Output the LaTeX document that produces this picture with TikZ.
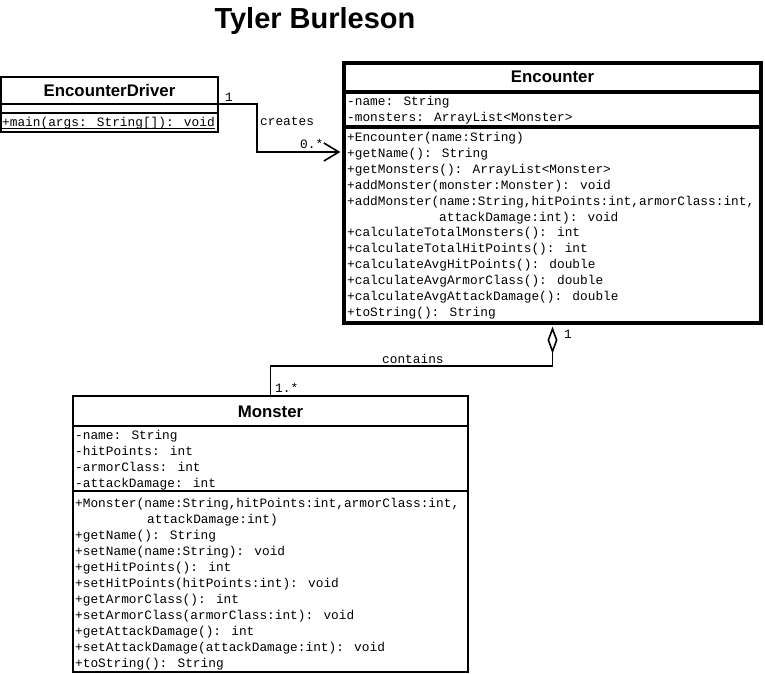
\documentclass[tikz,border=0pt]{standalone}
\usepackage{fontspec}
\setmainfont{Liberation Sans}
\newfontfamily\umlmono{Liberation Mono}
\usetikzlibrary{arrows.meta}
\begin{document}
\begin{tikzpicture}[x=1pt,y=-1pt,
  txt/.style={font=\umlmono\fontsize{12.8}{14}\selectfont, anchor=base west, inner sep=0pt},
  hdr/.style={font=\bfseries\fontsize{16.8}{18}\selectfont, anchor=base, inner sep=0pt},
  classline/.style={line width=1.6pt},
  boldline/.style={line width=3.6pt},
  classbox/.style={draw, inner sep=0pt, fill=white},
  conn/.style={line width=1.6pt}
]
\useasboundingbox (0,0) rectangle (765,674);

% title
\node[font=\bfseries\fontsize{29}{32}\selectfont, anchor=base, inner sep=0pt] (title) at (315,29) {Tyler Burleson};

% EncounterDriver
\node[classbox, classline, minimum width=217pt, minimum height=55pt] (drv) at (109.5,104.5) {};
\draw[classline] (drv.west |- 0,104) -- (drv.east |- 0,104);
\draw[classline] (drv.west |- 0,113) -- (drv.east |- 0,113);
\node[hdr] (drvname) at (109.5,96.5) {EncounterDriver};
\node[txt] (d1) at (2,126) {+main(args: String[]): void};
\draw[line width=0.8pt] ([yshift=-2pt]d1.base west) -- ([yshift=-2pt]d1.base east);

% Encounter
\node[classbox, boldline, minimum width=417pt, minimum height=260pt] (enc) at (552.5,193) {};
\draw[boldline] (enc.west |- 0,92) -- (enc.east |- 0,92);
\draw[boldline] (enc.west |- 0,127) -- (enc.east |- 0,127);
\node[hdr] (encname) at (552.5,83) {Encounter};
\foreach \t [count=\i] in {{-name: String},{-monsters: ArrayList<Monster>}}
  \node[txt] (ea\i) at (347,{106+15.7*(\i-1)}) {\t};
\foreach \dx/\t [count=\i] in {
  {0/+Encounter(name:String)},
  {0/+getName(): String},
  {0/+getMonsters(): ArrayList<Monster>},
  {0/+addMonster(monster:Monster): void},
  {0/+addMonster(name:String,hitPoints:int,armorClass:int,},
  {92/attackDamage:int): void},
  {0/+calculateTotalMonsters(): int},
  {0/+calculateTotalHitPoints(): int},
  {0/+calculateAvgHitPoints(): double},
  {0/+calculateAvgArmorClass(): double},
  {0/+calculateAvgAttackDamage(): double},
  {0/+toString(): String}}
  \node[txt] (e\i) at ({347+\dx},{141.5+15.9*(\i-1)}) {\t};

% Monster
\node[classbox, classline, minimum width=395pt, minimum height=276pt] (mon) at (270.5,534) {};
\draw[classline] (mon.west |- 0,426) -- (mon.east |- 0,426);
\draw[classline] (mon.west |- 0,491) -- (mon.east |- 0,491);
\node[hdr] (monname) at (270.5,417) {Monster};
\foreach \t [count=\i] in {{-name: String},{-hitPoints: int},{-armorClass: int},{-attackDamage: int}}
  \node[txt] (ma\i) at (75,{439.7+16*(\i-1)}) {\t};
\foreach \dx/\t [count=\i] in {
  {0/+Monster(name:String,hitPoints:int,armorClass:int,},
  {72/attackDamage:int)},
  {0/+getName(): String},
  {0/+setName(name:String): void},
  {0/+getHitPoints(): int},
  {0/+setHitPoints(hitPoints:int): void},
  {0/+getArmorClass(): int},
  {0/+setArmorClass(armorClass:int): void},
  {0/+getAttackDamage(): int},
  {0/+setAttackDamage(attackDamage:int): void},
  {0/+toString(): String}}
  \node[txt] (m\i) at ({75+\dx},{507.5+16*(\i-1)}) {\t};

% creates
\draw[conn, -{Straight Barb[length=15pt,width=18pt]}, shorten >=1.8pt]
  (drv.east |- 0,104) -- (257,104) |- (enc.west |- 0,152);
\node[txt] (l1) at (225,102) {1};
\node[txt] (lcreates) at (260,125.5) {creates};
\node[txt] (l0s) at (300,148.5) {0.*};

% contains
\draw[conn, {Diamond[open,length=27pt,width=10pt]}-, shorten <=1.8pt]
  (enc.south) -- (enc.south |- 0,366) -| (mon.north);
\node[txt] (lcontains) at (382,363.5) {contains};
\node[txt] (l1b) at (564,338) {1};
\node[txt] (l1s) at (275,392) {1.*};
\end{tikzpicture}
\end{document}
